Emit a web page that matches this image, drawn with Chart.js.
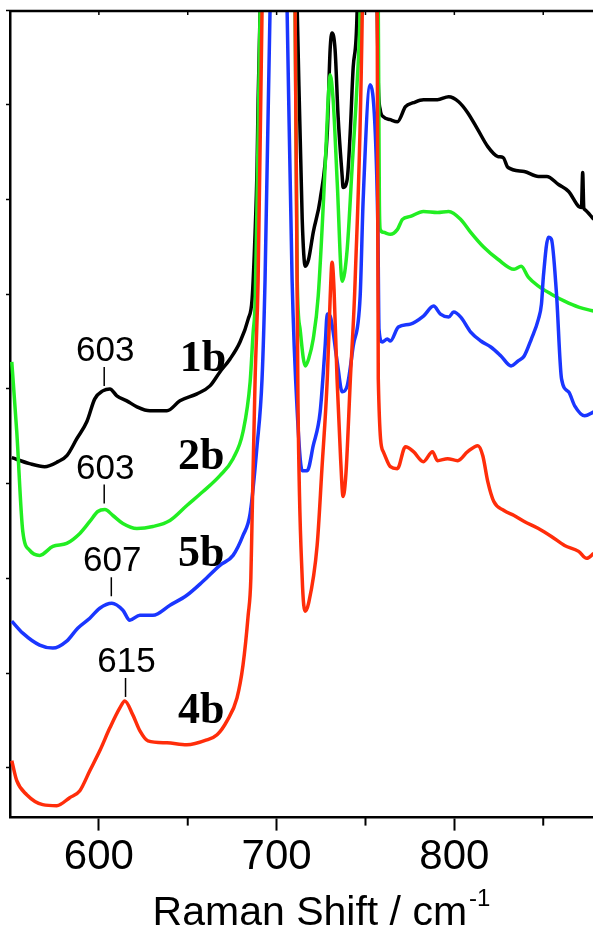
<!DOCTYPE html>
<html>
<head>
<meta charset="utf-8">
<script src="https://cdn.jsdelivr.net/npm/chart.js@4/dist/chart.umd.min.js"></script>
<style>
  html, body { margin: 0; padding: 0; background: #fff; }
  #wrap { width: 593px; height: 935px; position: relative; }
</style>
</head>
<body>
<div id="wrap"><canvas id="c"></canvas></div>
<script>
// ---- Data (Raman shift in cm-1, intensity in arbitrary units) ----
const xMin = 550, xMax = 878;
const majorTicks = [600, 700, 800];
const minorTicks = [650, 750, 850];
const topTicks = [600, 650, 700, 750, 800, 850];
const yTicks = [50, 145, 240, 335, 430, 525, 620, 715, 810];
const axisTitle = 'Raman Shift / cm';
const axisTitleSup = '-1';

const sampleNames = ['1b', '2b', '5b', '4b'];
const sampleLabelX = [645.5, 644.5, 644.5, 644.5];
const sampleLabelY = [448, 350, 252, 95];

const peakTexts = ['603', '603', '607', '615'];
const peakX = [603, 603, 607, 615];
const peakLeaderY = [433, 315, 222, 121];

const blackX = [551,561,569.5,577,582,587.6,593.2,597.7,602.2,606.2,610.1,615.7,621.4,628.7,638.3,645.6,655.2,662.5,668.1,673.8,679.4,684,686.2,687.9,689,689.6,690.7,693,700,705,711.6,714.4,716.1,718,720.6,724.5,728.5,730.1,731.2,732.9,734.6,736.9,737.4,739.7,741.4,743.1,745.3,750,756.6,757.2,758.3,760,764,768,772.5,777,782.6,790.5,796.8,802.4,807.5,813.2,818.8,824.5,827.4,830.2,839.3,847.3,852,858.6,864.3,869.9,871.5,872.2,872.8,873.3,878.4];
const blackY = [361,355,352,357,363,380,397,420,428,430,423,418,412,408,408,418,425,433,447,460,477,500,520,587,653,720,809,1100,1400,1300,810,600,553,560,587,620,687,770,787,770,703,643,632,640,687,753,810,1500,810,737,710,703,700,698,713,717,720,720,723,718,707,690,673,663,662,652,648,643,643,635,628,613,612,647,612,610,600];

const greenX = [551,553.8,557.2,561.1,566.7,574.1,581.9,589.3,594.9,599.4,603.4,607.9,613.5,621.4,630.4,640,649.5,658.6,668.1,675.5,681.1,685.1,686.8,687.9,689,690.7,693,700,710.4,711.6,713.2,716.1,718,720.6,723.4,727.3,729,730.1,731.8,734.1,736.9,739.7,742.5,745.3,747,752,757.2,757.8,758.3,760,764,768,770.8,775.3,782.6,790.5,796.8,803.6,809.2,816.6,824.5,833.6,837.6,841.6,847.3,854.6,862,869.9,878.4];
const greenY = [457,387,287,268,263,272,275,285,297,307,309,303,295,290,292,298,313,327,343,360,387,437,487,515,620,810,1100,1500,810,540,490,453,460,480,523,653,720,745,720,637,538,570,653,737,810,1400,810,620,590,587,585,590,600,603,608,607,608,600,587,572,560,550,553,542,533,525,518,512,508];

const blueX = [551,557.2,566.7,574.1,581.9,588.1,594.9,600.5,607.3,613.5,617.4,623.1,630.4,640,649.5,658.6,668.1,675.5,681.1,685.1,689,691.8,693.5,696.3,700,705.9,708.7,711.6,714.4,717.2,720.6,724.5,727.3,728.5,730.1,734.1,736.9,739.7,743.1,747,748.7,752.6,755.5,757,757.6,759.4,762.3,764,768.5,775.3,782.6,788.3,792.2,796.8,799.6,803.6,809.2,814.9,820.5,826.2,831.9,835.9,839.3,843.3,847.3,849,850.1,852.9,854.6,857.4,860.3,864.3,867.7,873.3,878.4];
const blueY = [197,185,173,170,177,190,200,210,215,208,198,203,203,213,223,237,253,263,283,305,373,440,540,810,1300,810,540,407,348,348,373,407,473,505,503,457,427,433,473,523,620,735,687,587,490,477,480,478,492,495,503,513,505,502,507,502,487,478,472,463,453,458,463,480,500,515,543,582,580,527,440,427,413,403,407];

const redX = [551,553.8,559.4,568.4,576.3,583.6,589.3,594.9,600.5,606.2,611.8,614.6,619.1,623.1,627.6,638.3,649.5,660.8,666.5,672.1,677.7,681.1,684,685.5,686.2,687.9,689.6,691.8,700,710.4,712,714.4,716.1,718,722.8,725.5,728.5,730.1,731.2,732.3,734,736,737.4,739,741.5,744.2,748.2,752,756.6,757.2,760,764,767.9,772.5,777,782.6,787.7,790.5,796.2,801.9,807.5,813.2,816,818.8,822.2,827.9,833.6,839.3,847.3,854.6,862,869.9,874.5,878.4];
const redY = [57,37,23,13,12,20,27,47,67,90,110,117,103,87,77,75,73,78,83,97,120,153,203,240,300,440,540,810,1600,810,420,240,207,215,273,350,440,520,557,530,440,360,322,345,440,540,810,1500,810,440,367,352,350,372,367,357,367,358,360,358,367,373,363,337,317,308,303,297,290,282,273,267,260,265];

const toPts = (xs, ys) => xs.map((x, i) => ({ x: x, y: ys[i] }));

const SANS = "'Liberation Sans', Arial, sans-serif";
const SERIF = "'Liberation Serif', 'Times New Roman', serif";

const decorPlugin = {
  id: 'decor',
  afterDatasetsDraw(chart) {
    const { ctx, chartArea: a, scales } = chart;
    const xs = scales.x, ys = scales.y;
    ctx.save();
    ctx.strokeStyle = '#000';
    // top frame line
    ctx.lineWidth = 2.5;
    ctx.beginPath(); ctx.moveTo(a.left - 1, a.top); ctx.lineTo(a.right, a.top); ctx.stroke();
    // top inward ticks
    ctx.lineWidth = 1.5;
    topTicks.forEach(v => {
      const px = xs.getPixelForValue(v);
      ctx.beginPath(); ctx.moveTo(px, a.top); ctx.lineTo(px, a.top + 4); ctx.stroke();
    });
    // bottom minor ticks
    ctx.lineWidth = 2;
    minorTicks.forEach(v => {
      const px = xs.getPixelForValue(v);
      ctx.beginPath(); ctx.moveTo(px, a.bottom); ctx.lineTo(px, a.bottom + 8); ctx.stroke();
    });
    // peak annotations
    ctx.fillStyle = '#000';
    ctx.textAlign = 'center';
    ctx.textBaseline = 'alphabetic';
    ctx.font = '35px ' + SANS;
    ctx.lineWidth = 1.5;
    peakTexts.forEach((t, i) => {
      const px = xs.getPixelForValue(peakX[i]);
      const yb = ys.getPixelForValue(peakLeaderY[i]);
      ctx.beginPath(); ctx.moveTo(px, yb); ctx.lineTo(px, yb - 19); ctx.stroke();
      ctx.fillText(t, px + 1, yb - 25);
    });
    // sample labels
    ctx.textAlign = 'left';
    ctx.font = 'bold 44px ' + SERIF;
    sampleNames.forEach((t, i) => {
      ctx.fillText(t, xs.getPixelForValue(sampleLabelX[i]), ys.getPixelForValue(sampleLabelY[i]));
    });
    // axis title with superscript
    ctx.font = '41px ' + SANS;
    const wMain = ctx.measureText(axisTitle).width;
    ctx.font = '24px ' + SANS;
    const wSup = ctx.measureText(axisTitleSup).width;
    const total = wMain + 2 + wSup;
    const cx = (a.left + a.right) / 2 + 20;
    const x0 = cx - total / 2;
    ctx.font = '41px ' + SANS;
    ctx.fillText(axisTitle, x0, 925);
    ctx.font = '24px ' + SANS;
    ctx.fillText(axisTitleSup, x0 + wMain + 2, 906);
    ctx.restore();
  }
};

const ds = (label, xs, ys, color, order) => ({
  label: label,
  data: toPts(xs, ys),
  borderColor: color,
  borderWidth: 3.5,
  pointRadius: 0,
  fill: false,
  cubicInterpolationMode: 'monotone',
  order: order
});

new Chart(document.getElementById('c'), {
  type: 'line',
  data: {
    datasets: [
      ds('1b', blackX, blackY, '#000000', 3),
      ds('2b', greenX, greenY, '#22ee22', 2),
      ds('5b', blueX, blueY, '#1a36ff', 1),
      ds('4b', redX, redY, '#ff2d0a', 0)
    ]
  },
  options: {
    responsive: true,
    maintainAspectRatio: false,
    animation: false,
    events: [],
    layout: { padding: { left: 6, right: 0, top: 11, bottom: 50 } },
    plugins: { legend: { display: false }, tooltip: { enabled: false }, title: { display: false } },
    scales: {
      x: {
        type: 'linear',
        min: xMin,
        max: xMax,
        afterBuildTicks: s => { s.ticks = majorTicks.map(v => ({ value: v })); },
        grid: { drawOnChartArea: false, tickLength: 13, tickWidth: 2, tickColor: '#000' },
        border: { display: true, color: '#000', width: 2.5 },
        ticks: { color: '#000', font: { family: SANS, size: 42 }, padding: 2, maxRotation: 0, autoSkip: false }
      },
      y: {
        type: 'linear',
        min: 0,
        max: 809,
        afterBuildTicks: s => { s.ticks = yTicks.map(v => ({ value: v })); },
        grid: { drawOnChartArea: false, tickLength: 4, tickWidth: 1.5, tickColor: '#000' },
        border: { display: true, color: '#000', width: 2.5 },
        ticks: { display: false }
      }
    }
  },
  plugins: [decorPlugin]
});
</script>
</body>
</html>
